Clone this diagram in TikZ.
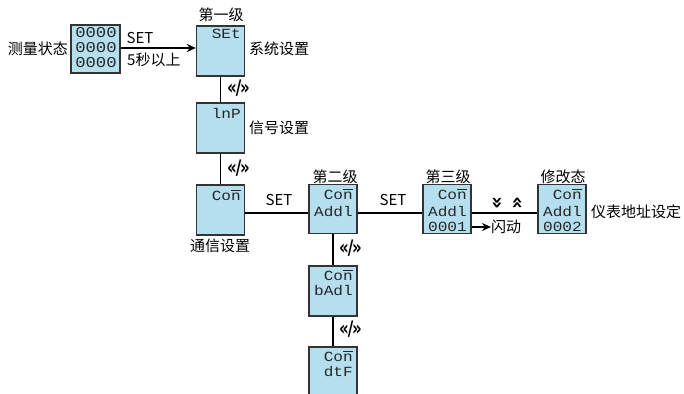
\documentclass[tikz,border=0pt]{standalone}
\usepackage{fontspec}
\setmainfont{Noto Sans CJK SC}
\newfontfamily\lcdfont{Liberation Mono}
\newfontfamily\navfont{DejaVu Sans Bold}
\usetikzlibrary{arrows.meta}
\definecolor{lcdfill}{HTML}{B5DFEE}
\definecolor{lcdedge}{HTML}{333333}
\tikzset{
  lcd/.style={draw=lcdedge, line width=1.3pt, fill=lcdfill, minimum width=48pt, minimum height=49pt, inner sep=0pt},
  lcdtxt/.style={font=\lcdfont\fontsize{14}{14}\selectfont, inner sep=0pt, anchor=east, text=black!85},
  lbl/.style={font=\fontsize{15}{16}\selectfont, inner sep=0pt},
  nav/.style={font=\navfont\fontsize{20}{20}\selectfont, inner sep=0pt, anchor=west},
  conn/.style={line width=1.8pt, black},
  arr/.style={conn, -{Stealth[length=9pt,width=8pt]}}
}
\newcommand{\lcd}[1]{\scalebox{1.15}[1]{#1}}
\newcommand{\nbar}{{\setbox0\hbox{n}\rlap{\raisebox{1.3\ht0}{\rule{\wd0}{0.6pt}}}n}}
\newcommand{\navsym}{\scalebox{0.75}[1]{«\kern-1.5pt/\kern-1.5pt»}}
\begin{document}
\begin{tikzpicture}[x=1pt,y=-1pt]
\useasboundingbox (0,0) rectangle (684,393);
% boxes
\node[lcd, minimum width=49pt, minimum height=48pt] (meas) at (95.5,49) {};
\node[lcd, minimum height=50pt] (set) at (220.5,51) {};
\node[lcd, minimum height=50pt] (inp) at (220.5,128) {};
\node[lcd, minimum height=50pt] (con) at (220.5,210) {};
\node[lcd] (l2) at (333,209) {};
\node[lcd] (l3) at (447,209) {};
\node[lcd] (mod) at (562,209) {};
\node[lcd, minimum height=50pt] (bad) at (333,291) {};
\node[lcd, minimum height=50pt] (dtf) at (333,372) {};
% LCD texts
\foreach \yy/\nm in {33/ma,48/mb,63/mc}
  \node[lcdtxt, anchor=center, font=\lcdfont\fontsize{15}{15}\selectfont] (\nm) at (96,\yy) {\lcd{0000}};
\node[lcdtxt] (t1) at (241,34) {\lcd{SEt}};
\node[lcdtxt] (t2) at (241,113) {\lcd{lnP}};
\node[lcdtxt] (t3) at (241,195) {\lcd{Co\nbar}};
\node[lcdtxt] (t4) at (353,194) {\lcd{Co\nbar}};
\node[lcdtxt] (t5) at (353,212) {\lcd{Addl}};
\node[lcdtxt] (t6) at (467,194) {\lcd{Co\nbar}};
\node[lcdtxt] (t7) at (467,212) {\lcd{Addl}};
\node[lcdtxt] (t8) at (467,227) {\lcd{0001}};
\node[lcdtxt] (t9) at (582,194) {\lcd{Co\nbar}};
\node[lcdtxt] (t10) at (582,212) {\lcd{Addl}};
\node[lcdtxt] (t11) at (582,227) {\lcd{0002}};
\node[lcdtxt] (t12) at (353,275) {\lcd{Co\nbar}};
\node[lcdtxt] (t13) at (353,291) {\lcd{bAdl}};
\node[lcdtxt] (t14) at (353,356) {\lcd{Co\nbar}};
\node[lcdtxt] (t15) at (353,372) {\lcd{dtF}};
% connectors
\draw[arr] (meas.east |- 0,48) -- (set.west |- 0,48);
\draw[conn] (set.south) -- (inp.north);
\draw[conn] (inp.south) -- (con.north);
\draw[conn] (con.east |- 0,213) -- (l2.west |- 0,213);
\draw[conn] (l2.east |- 0,213) -- (l3.west |- 0,213);
\draw[conn] (l3.east |- 0,213) -- (mod.west |- 0,213);
\draw[conn] (l2.south) -- (bad.north);
\draw[conn] (bad.south) -- (dtf.north);
\coordinate (flash) at (491,227);
\draw[arr] (l3.east |- 0,227) -- (flash);
% labels
\node[lbl, anchor=east] (lm) at (68,49) {测量状态};
\node[lbl] (s1) at (140,38) {SET};
\node[lbl, anchor=west] (s1b) at (127,60) {5秒以上};
\node[lbl] (lv1) at (221,15) {第一级};
\node[lbl, anchor=west] (ls) at (249,49) {系统设置};
\node[lbl, anchor=west] (li) at (249,128) {信号设置};
\node[lbl] (lc) at (220,246) {通信设置};
\node[lbl] (s2) at (279,200) {SET};
\node[lbl] (s3) at (393,200) {SET};
\node[lbl] (lv2) at (335,177) {第二级};
\node[lbl] (lv3) at (448,177) {第三级};
\node[lbl] (lv4) at (563,177) {修改态};
\node[lbl, anchor=west] (lf) at (flash) {闪动};
\node[lbl, anchor=west] (la) at (591,212) {仪表地址设定};
\node[nav] (n1) at (227,88) {\navsym};
\node[nav] (n2) at (227,168) {\navsym};
\node[nav] (n3) at (339,248) {\navsym};
\node[nav] (n4) at (339,329) {\navsym};
\node[nav, anchor=center, rotate=-90] (dn) at (497,203) {»};
\node[nav, anchor=center, rotate=90] (up) at (518,203) {»};
\end{tikzpicture}
\end{document}
